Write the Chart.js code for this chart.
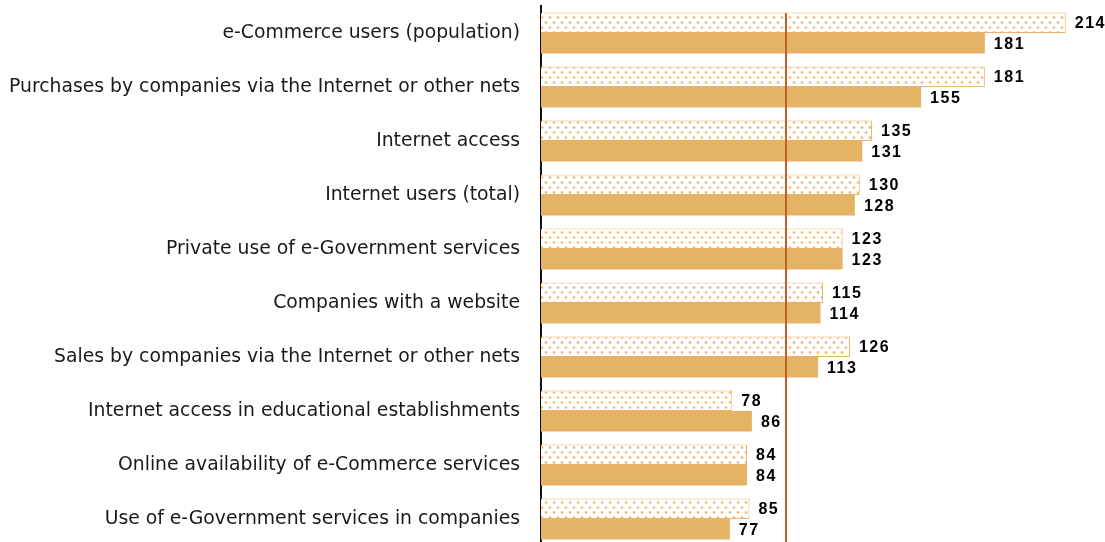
<!DOCTYPE html>
<html>
<head>
<meta charset="utf-8">
<script src="https://cdn.jsdelivr.net/npm/chart.js@4/dist/chart.umd.min.js"></script>
<style>
  html, body { margin: 0; padding: 0; background: #fff; overflow: hidden; }
  #wrap { position: relative; width: 1105px; height: 546px; }
</style>
</head>
<body>
<div id="wrap"><canvas id="chart"></canvas></div>
<script>
// Indicator names (top to bottom)
const categories = [
  "e-Commerce users (population)",
  "Purchases by companies via the Internet or other nets",
  "Internet access",
  "Internet users (total)",
  "Private use of e-Government services",
  "Companies with a website",
  "Sales by companies via the Internet or other nets",
  "Internet access in educational establishments",
  "Online availability of e-Commerce services",
  "Use of e-Government services in companies"
];
// Index values (100 = reference level)
const seriesDotted = [214, 181, 135, 130, 123, 115, 126, 78, 84, 85];
const seriesSolid  = [181, 155, 131, 128, 123, 114, 113, 86, 84, 77];
const referenceLevel = 100;

// Dotted fill for the first series
function dotPattern() {
  const c = document.createElement('canvas');
  c.width = 8; c.height = 10;
  const g = c.getContext('2d');
  g.fillStyle = '#fff';
  g.fillRect(0, 0, 8, 10);
  g.fillStyle = 'rgba(234,172,92,0.9)';
  g.beginPath(); g.arc(2, 2.5, 1.3, 0, Math.PI * 2); g.fill();
  g.beginPath(); g.arc(6, 7.5, 1.3, 0, Math.PI * 2); g.fill();
  return g.createPattern(c, 'repeat');
}

const refLine = {
  id: 'refLine',
  afterDatasetsDraw(chart) {
    const { ctx, chartArea, scales } = chart;
    const x = Math.round(scales.x.getPixelForValue(referenceLevel));
    ctx.save();
    ctx.strokeStyle = '#C0602A';
    ctx.lineWidth = 2;
    ctx.beginPath();
    ctx.moveTo(x, chartArea.top + 7);
    ctx.lineTo(x, chartArea.bottom);
    ctx.stroke();
    ctx.restore();
  }
};

const valueLabels = {
  id: 'valueLabels',
  afterDatasetsDraw(chart) {
    const { ctx } = chart;
    ctx.save();
    ctx.font = 'bold 16px "Liberation Sans", Arial, sans-serif';
    ctx.letterSpacing = '1.5px';
    ctx.fillStyle = '#000';
    ctx.textBaseline = 'middle';
    ctx.textAlign = 'left';
    chart.data.datasets.forEach((ds, di) => {
      chart.getDatasetMeta(di).data.forEach((bar, i) => {
        ctx.fillText(String(ds.data[i]), bar.x + 9, bar.y + 1);
      });
    });
    ctx.restore();
  }
};

new Chart(document.getElementById('chart'), {
  type: 'bar',
  data: {
    labels: categories,
    datasets: [
      {
        data: seriesDotted,
        backgroundColor: dotPattern(),
        borderColor: '#E9B46A',
        borderWidth: 1,
        borderSkipped: 'start'
      },
      {
        data: seriesSolid,
        backgroundColor: '#E5B366',
        borderWidth: 0
      }
    ]
  },
  options: {
    indexAxis: 'y',
    responsive: true,
    maintainAspectRatio: false,
    animation: false,
    layout: { padding: { top: 6, left: 0, right: 0, bottom: 0 } },
    categoryPercentage: 0.76,
    barPercentage: 1.0,
    plugins: { legend: { display: false }, tooltip: { enabled: false } },
    scales: {
      x: {
        display: false,
        min: 0,
        max: 230
      },
      y: {
        afterFit(scale) {
          scale.width = 541;
          scale.paddingTop = 0;
          scale.paddingBottom = 0;
        },
        grid: { display: false, drawTicks: false },
        border: { display: true, color: '#111', width: 2 },
        ticks: {
          padding: 21,
          color: '#1a1a1a',
          font: { family: '"DejaVu Sans", Verdana, sans-serif', size: 18.8 }
        }
      }
    }
  },
  plugins: [refLine, valueLabels]
});
</script>
</body>
</html>
